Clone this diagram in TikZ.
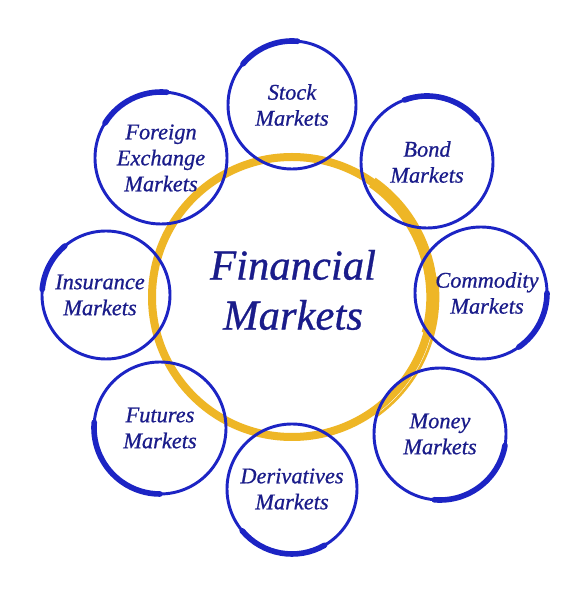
\documentclass[tikz,border=0pt]{standalone}
\usepackage{fontspec}
\setmainfont{Liberation Serif}
\newfontfamily\lblfont{Liberation Serif Italic}[FakeBold=0.7]
\definecolor{ringblue}{RGB}{28,36,196}
\definecolor{textblue}{RGB}{26,28,138}
\definecolor{hubgold}{RGB}{238,182,38}
\tikzset{
  mkt/.style={circle, draw=ringblue, line width=2.2pt, inner sep=0pt,
    text=textblue, align=center, font=\fontsize{16.8}{19.5}\selectfont\lblfont},
  thk/.style={draw=ringblue, line width=4.2pt, line cap=round},
  hub/.style={draw=hubgold, line width=6pt}
}
\begin{document}
\begin{tikzpicture}[x=0.75pt, y=0.75pt]
  \useasboundingbox (0,0) rectangle (586,600);
  \fill[white] (0,0) rectangle (586,600);

  % centre ring
  \draw[hub] (292,303) circle (140);
  \draw[hub, line width=8.5pt] (292,303) ++(-15:140) arc[start angle=-15, end angle=55, radius=140];
  \draw[draw=hubgold, line width=2pt] (292,303) ++(-55:146) arc[start angle=-55, end angle=8, radius=146];
  \node[text=textblue, align=center, font=\fontsize{32}{37.5}\selectfont\lblfont] (fin) at (293,310) {Financial\\Markets};

  % outer markets
  \node[mkt, minimum size=96pt] (stock) at (292,495) {Stock\\Markets};
  \node[mkt, minimum size=99pt] (bond)  at (427,438) {Bond\\Markets};
  \node[mkt, minimum size=99pt] (comm)  at (481,307) {\hspace*{9pt}Commodity\\\hspace*{9pt}Markets};
  \node[mkt, minimum size=99pt] (money) at (440,166) {Money\\Markets};
  \node[mkt, minimum size=97.5pt] (deriv) at (292,111) {Derivatives\\Markets};
  \node[mkt, minimum size=99pt] (fut)   at (160,172) {Futures\\Markets};
  \node[mkt, minimum size=96pt] (ins)   at (106,305) {Insurance\hspace*{9pt}\\Markets\hspace*{9pt}};
  \node[mkt, minimum size=99pt] (forex) at (161,442) {Foreign\\Exchange\\Markets};

  % brush strokes
  \draw[thk] (stock.center) ++(85:64) arc[start angle=85, end angle=140, radius=64];
  \draw[thk] (forex.center) ++(85:66) arc[start angle=85, end angle=148, radius=66];
  \draw[thk] (bond.center)  ++(40:66) arc[start angle=40, end angle=110, radius=66];
  \draw[thk] (comm.center)  ++(-55:66) arc[start angle=-55, end angle=0, radius=66];
  \draw[thk] (money.center) ++(-95:66) arc[start angle=-95, end angle=-10, radius=66];
  \draw[thk] (deriv.center) ++(220:65) arc[start angle=220, end angle=300, radius=65];
  \draw[thk] (fut.center)   ++(175:66) arc[start angle=175, end angle=270, radius=66];
  \draw[thk] (ins.center)   ++(130:64) arc[start angle=130, end angle=175, radius=64];
\end{tikzpicture}
\end{document}
